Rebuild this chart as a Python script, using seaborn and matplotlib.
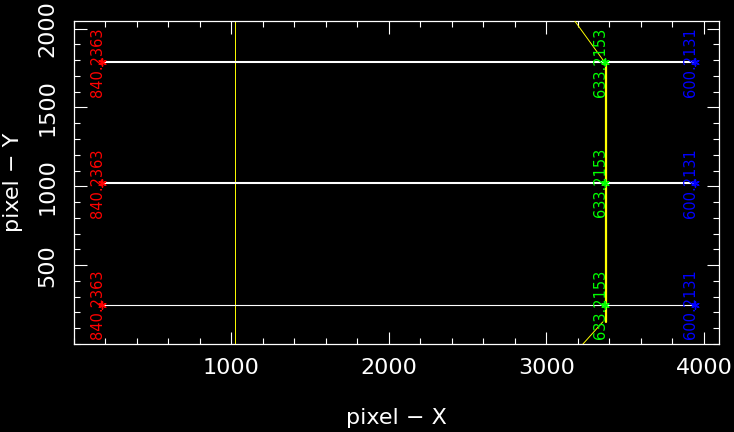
import matplotlib
matplotlib.use("Agg")
import matplotlib.pyplot as plt
import seaborn as sns
import pandas as pd
from matplotlib.ticker import MultipleLocator

# ---- data ----
row_y = [1786, 1022, 250]
red_x = [180, 180, 180]
green_x = [3369, 3369, 3369]
blue_x = [3943, 3943, 3943]
red_label = "840.2363"
green_label = "633.2153"
blue_label = "600.2131"
line_widths = [1.5, 1.5, 0.8]

trace_main_x = [3380, 3380]
trace_main_y = [1786, 140]
trace_top_x = [3180, 3370]
trace_top_y = [2048, 1786]
trace_bot_x = [3358, 3232]
trace_bot_y = [140, 0]
guide_x = [1022, 1022]
guide_y = [0, 2048]

sns.set_style("dark", {"axes.facecolor": "black", "figure.facecolor": "black"})
plt.rcParams['font.family'] = ['DejaVu Sans']

fig = plt.figure(figsize=(7.34, 4.32), dpi=100)
ax = fig.add_axes([74/734, (432-344)/432, 645/734, 323/432])
ax.set_facecolor("black")

# horizontal rows
for i, y in enumerate(row_y):
    df = pd.DataFrame({"x": [red_x[i], green_x[i], blue_x[i]], "y": [y, y, y]})
    sns.lineplot(data=df, x="x", y="y", ax=ax, color="white", lw=line_widths[i],
                 sort=False, estimator=None, zorder=2)

# yellow traces
sns.lineplot(x=guide_x, y=guide_y, ax=ax, color="#ffff00", lw=0.7, sort=False, estimator=None, zorder=1)
sns.lineplot(x=trace_main_x, y=trace_main_y, ax=ax, color="#ffff00", lw=1.6, sort=False, estimator=None, zorder=3)
sns.lineplot(x=trace_top_x, y=trace_top_y, ax=ax, color="#ffff00", lw=0.7, sort=False, estimator=None, zorder=3)
sns.lineplot(x=trace_bot_x, y=trace_bot_y, ax=ax, color="#ffff00", lw=0.7, sort=False, estimator=None, zorder=3)

# markers + labels
for xs, col, lab in [(red_x, "#ff0000", red_label), (green_x, "#00ff00", green_label),
                     (blue_x, "#0000ff", blue_label)]:
    sns.scatterplot(x=xs, y=row_y, ax=ax, color=col, marker=(6, 2, 0), s=28,
                    linewidth=1.0, edgecolor=col, zorder=4)
    for x, y in zip(xs, row_y):
        ax.text(x, y, lab, color=col, rotation=90, rotation_mode="anchor",
                ha="center", va="baseline", fontsize=10.5, zorder=5)

ax.set_xlim(0, 4096)
ax.set_ylim(0, 2048)
ax.xaxis.set_major_locator(MultipleLocator(1000))
ax.xaxis.set_minor_locator(MultipleLocator(200))
ax.yaxis.set_major_locator(MultipleLocator(500))
ax.yaxis.set_minor_locator(MultipleLocator(100))
ax.set_xticks([1000, 2000, 3000, 4000])
ax.set_yticks([500, 1000, 1500, 2000])
ax.tick_params(which="both", direction="in", top=True, right=True, bottom=True, left=True,
               colors="white", width=0.8, labelsize=16)
ax.tick_params(which="major", length=9)
ax.tick_params(which="minor", length=4.5)
ax.tick_params(axis="x", which="major", pad=10)
ax.tick_params(axis="y", which="major", pad=12)
for lbl in ax.get_yticklabels():
    lbl.set_rotation(90)
    lbl.set_va("center")
ax.grid(False)
for s in ax.spines.values():
    s.set_color("white")
    s.set_linewidth(0.9)
    s.set_visible(True)

ax.set_xlabel("pixel − X", color="white", fontsize=16)
ax.set_ylabel("pixel − Y", color="white", fontsize=16)
ax.xaxis.set_label_coords(0.5, -64/323)
ax.yaxis.set_label_coords(-51/645, 0.5)

fig.savefig("out.png", dpi=100, facecolor="black")
